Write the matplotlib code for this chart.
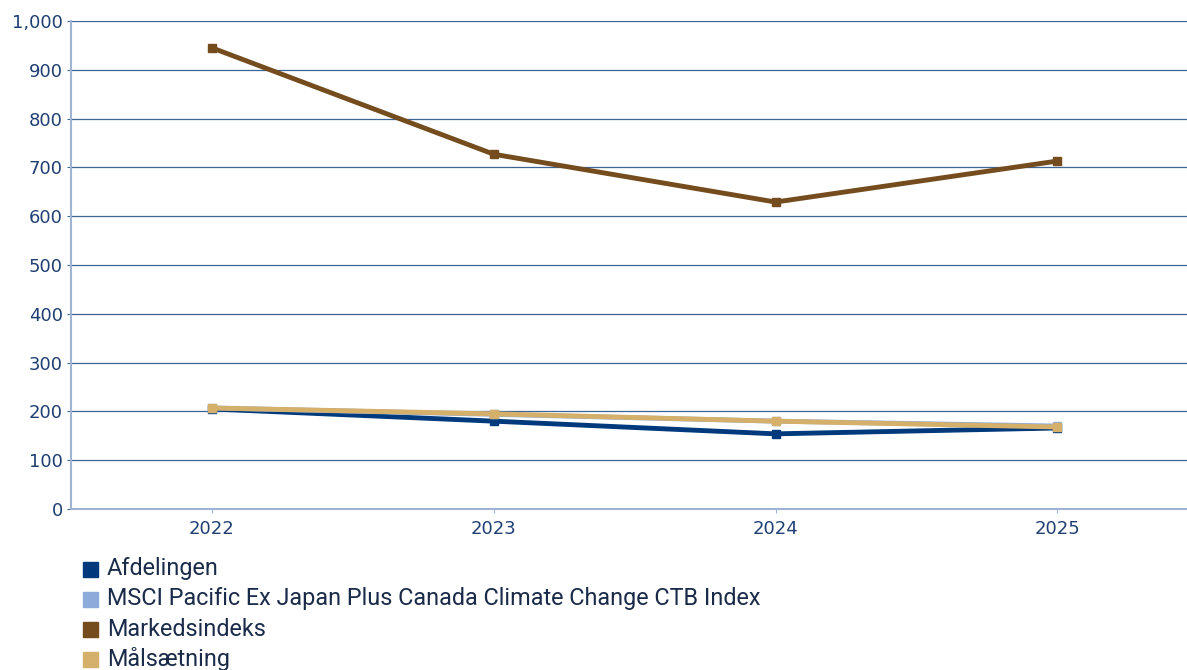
import matplotlib.pyplot as plt
from matplotlib.patches import Rectangle

years = ["2022", "2023", "2024", "2025"]
afdelingen = [205, 180, 154, 166]
msci = [207, 194, 180, 170]
markedsindeks = [945, 727, 629, 713]
maalsaetning = [207, 195, 180, 168]

series = [
    ("Afdelingen", afdelingen, "#003a7d"),
    ("MSCI Pacific Ex Japan Plus Canada Climate Change CTB Index", msci, "#8eaadb"),
    ("Markedsindeks", markedsindeks, "#744c1e"),
    ("Målsætning", maalsaetning, "#d4b06a"),
]

plt.rcParams["font.family"] = ["DejaVu Sans"]
text_col = "#1f3f73"

fig = plt.figure(figsize=(11.87, 6.70), dpi=100)
ax = fig.add_axes([71 / 1187, 1 - 509 / 670, 1 - 71 / 1187, 488 / 670])

x = range(len(years))
for name, vals, col in series:
    ax.plot(x, vals, color=col, lw=3.5, marker="s", markersize=6, label=name)

ax.set_ylim(0, 1000)
ax.set_xlim(-0.5, 3.46)
ax.set_yticks(range(0, 1001, 100))
ax.set_yticklabels([f"{v:,}" for v in range(0, 1001, 100)])
ax.set_xticks(list(x))
ax.set_xticklabels(years)
ax.grid(axis="y", color="#3c6496", lw=0.9)
ax.set_axisbelow(True)
for s in ["top", "right"]:
    ax.spines[s].set_visible(False)
for s in ["left", "bottom"]:
    ax.spines[s].set_color("#9fb4d3")
    ax.spines[s].set_linewidth(1.5)
ax.tick_params(axis="y", colors="#3c6496", length=3, labelsize=13, labelcolor=text_col, pad=3)
ax.tick_params(axis="x", colors="#9fb4d3", length=3, labelsize=13, labelcolor=text_col, pad=5)

# legend below the plot
for i, (name, vals, col) in enumerate(series):
    yc = 569 + i * 30
    fig.patches.append(Rectangle((83 / 1187, 1 - (yc + 8) / 670), 15 / 1187, 15 / 670,
                                 transform=fig.transFigure, color=col))
    fig.text(107 / 1187, 1 - yc / 670, name, fontsize=16.8, color="#1a2b4a", va="center",
             family=["Roboto", "DejaVu Sans"])

fig.savefig("out.png", dpi=100)
